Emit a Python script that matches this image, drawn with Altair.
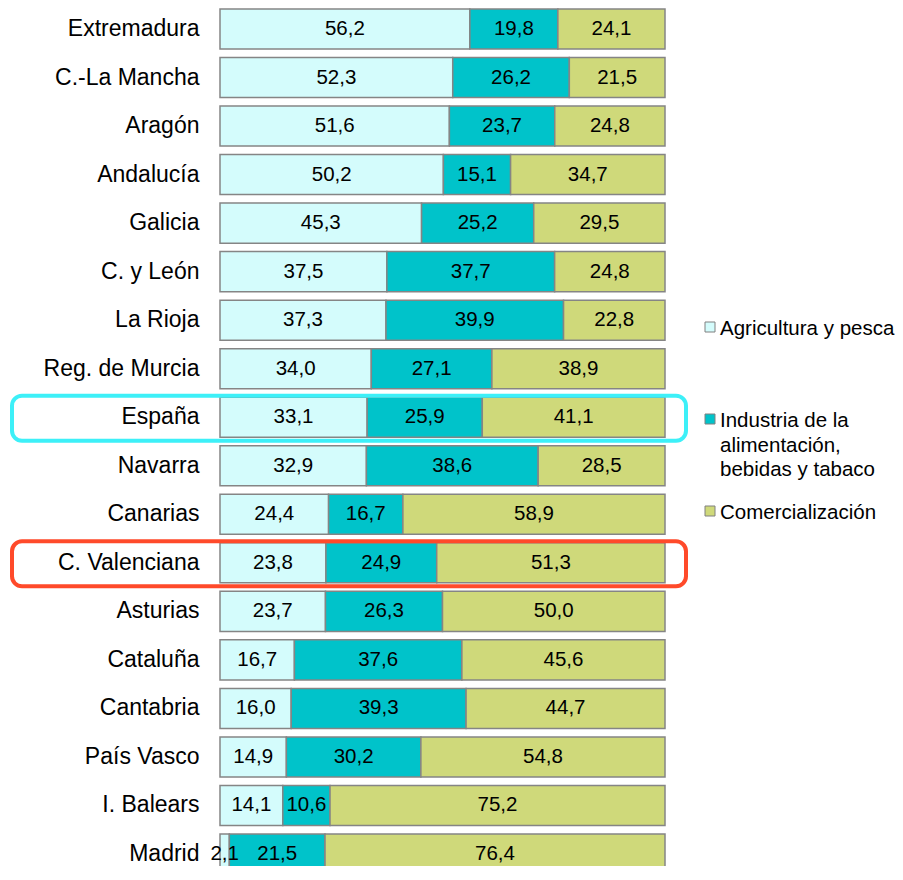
import altair as alt
import pandas as pd

regions = ["Extremadura", "C.-La Mancha", "Aragón", "Andalucía", "Galicia", "C. y León",
           "La Rioja", "Reg. de Murcia", "España", "Navarra", "Canarias", "C. Valenciana",
           "Asturias", "Cataluña", "Cantabria", "País Vasco", "I. Balears", "Madrid"]
agricultura = [56.2, 52.3, 51.6, 50.2, 45.3, 37.5, 37.3, 34.0, 33.1, 32.9, 24.4, 23.8,
               23.7, 16.7, 16.0, 14.9, 14.1, 2.1]
industria = [19.8, 26.2, 23.7, 15.1, 25.2, 37.7, 39.9, 27.1, 25.9, 38.6, 16.7, 24.9,
             26.3, 37.6, 39.3, 30.2, 10.6, 21.5]
comercializacion = [24.1, 21.5, 24.8, 34.7, 29.5, 24.8, 22.8, 38.9, 41.1, 28.5, 58.9, 51.3,
                    50.0, 45.6, 44.7, 54.8, 75.2, 76.4]
series = ["Agricultura y pesca", "Industria de la alimentación, bebidas y tabaco", "Comercialización"]
series_legend_text = ["Agricultura y pesca", "Industria de la\nalimentación,\nbebidas y tabaco", "Comercialización"]
series_colors = ["#D4FCFC", "#00C3CA", "#CFD97A"]
highlight_regions = ["España", "C. Valenciana"]
highlight_colors = ["#3DF0F8", "#FF4A2A"]

rows = []
for i, r in enumerate(regions):
    for k, (s, vals) in enumerate(zip(series, [agricultura, industria, comercializacion])):
        rows.append({"region": r, "serie": s, "orden": k, "valor": vals[i]})
df = pd.DataFrame(rows)
hl = pd.DataFrame({"region": highlight_regions, "hcolor": highlight_colors})
leg = pd.DataFrame({"serie": series, "texto": series_legend_text})

FONT = "Liberation Sans"
color_scale = alt.Scale(domain=series, range=series_colors)
y_scale = alt.Scale(range=[0, 867], paddingInner=0.175, paddingOuter=0.02)

y_enc = alt.Y("region:N", sort=regions, scale=y_scale,
              axis=alt.Axis(title=None, domain=False, ticks=False, labelFontSize=23,
                            labelColor="black", labelFont=FONT, labelPadding=21,
                            labelLimit=400))

base = alt.Chart(df).transform_stack(
    stack="valor", groupby=["region"], as_=["x0", "x1"], offset="normalize",
    sort=[alt.SortField("orden", order="ascending")]
).transform_calculate(
    mid="(datum.x0 + datum.x1) / 2",
    label="replace(format(datum.valor, '.1f'), '.', ',')"
)

xs = alt.Scale(domain=[0, 1], nice=False, zero=False)

bars = base.mark_bar(stroke="#858585", strokeWidth=1.5).encode(
    y=y_enc,
    x=alt.X("x0:Q", scale=xs, axis=None),
    x2="x1:Q",
    color=alt.Color("serie:N", scale=color_scale, legend=None),
)

text = base.mark_text(fontSize=20.5, font=FONT, color="black").encode(
    y=alt.Y("region:N", sort=regions),
    x=alt.X("mid:Q", scale=xs),
    text="label:N",
)

boxes = alt.Chart(hl).mark_bar(filled=False, cornerRadius=10, strokeWidth=4,
                               height=45, yOffset=1).encode(
    y=alt.Y("region:N", sort=regions),
    x=alt.value(-208),
    x2=alt.value(466),
    stroke=alt.Color("hcolor:N", scale=None),
)

main = alt.layer(bars, text, boxes)

leg_y = alt.Y("serie:N", sort=series, axis=None,
              scale=alt.Scale(type="point", domain=series, range=[319, 503], padding=0))
leg_sym = alt.Chart(leg).mark_square(size=100, stroke="#808080", strokeWidth=1,
                                     opacity=1, filled=True).encode(
    x=alt.value(490),
    y=leg_y,
    fill=alt.Color("serie:N", scale=color_scale, legend=None),
)
leg_txt = alt.Chart(leg).mark_text(align="left", baseline="alphabetic", dy=8,
                                   lineBreak="\n", lineHeight=24.5, fontSize=20.5,
                                   font=FONT, color="black").encode(
    x=alt.value(500),
    y=leg_y,
    text="texto:N",
)
legend = alt.layer(leg_sym, leg_txt)

chart = alt.layer(main, legend).resolve_scale(y="independent").properties(
    width=445, height=858,
    autosize=alt.AutoSizeParams(type="none"),
    padding={"top": 0, "left": 212, "right": 230, "bottom": 0},
).configure_view(stroke=None)

chart.save("out.html", embed_options={"renderer": "svg", "actions": False})
